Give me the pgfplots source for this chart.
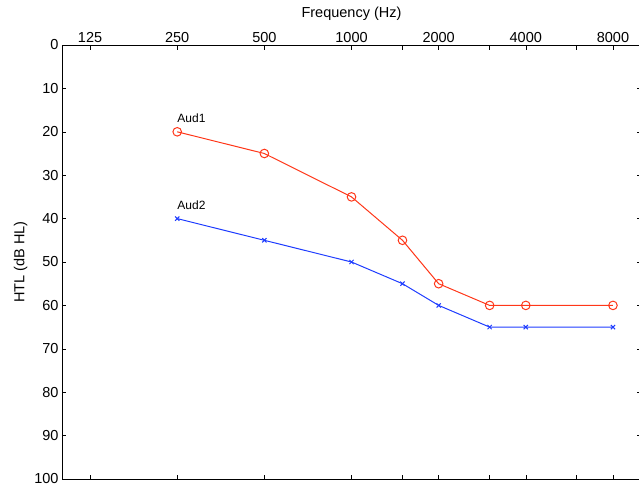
\documentclass[border=0pt]{standalone}
\usepackage{pgfplots}
\pgfplotsset{compat=1.18}
\usepackage{fontspec}
\setmainfont{Liberation Sans}
\definecolor{audred}{RGB}{255,55,25}
\definecolor{audblue}{RGB}{30,60,255}
\begin{document}
\begin{tikzpicture}
\begin{axis}[name=ax,
  scale only axis, width=579pt, height=434pt,
  xmode=log, log basis x=2, xmin=100, xmax=10000,
  ymin=0, ymax=100, y dir=reverse,
  xtick={125,250,500,1000,1500,2000,3000,4000,6000,8000},
  xticklabels={125,250,500,1000,,2000,,4000,,8000},
  xticklabel pos=upper,
  ytick={0,10,...,100},
  tick align=inside, major tick length=4.5pt,
  minor tick num=0, log ticks with fixed point,
  xtick pos=both, ytick pos=both,
  axis line style={line width=1pt},
  every tick/.style={black, line width=0.6pt},
  tick label style={font=\fontsize{14.5}{16}\selectfont},
  /pgf/number format/assume math mode=true,
  xticklabel style={yshift=-1pt},
  xlabel={Frequency (Hz)}, xlabel style={font=\fontsize{14.5}{16}\selectfont, yshift=5pt},
  ylabel={HTL (dB HL)}, ylabel style={font=\fontsize{14.5}{16}\selectfont},
  clip=false,
]
\addplot[audred, line width=1pt, mark=o, mark size=4.3pt, mark options={line width=1pt}]
  coordinates {(250,20) (500,25) (1000,35) (1500,45) (2000,55) (3000,60) (4000,60) (8000,60)};
\addplot[audblue, line width=1pt, mark=x, mark size=3pt, mark options={line width=1pt}]
  coordinates {(250,40) (500,45) (1000,50) (1500,55) (2000,60) (3000,65) (4000,65) (8000,65)};
\node[anchor=base west, font=\fontsize{12}{14}\selectfont, inner sep=0pt] at (axis cs:250,17.8) {Aud1};
\node[anchor=base west, font=\fontsize{12}{14}\selectfont, inner sep=0pt] at (axis cs:250,37.8) {Aud2};
\end{axis}
\pgfresetboundingbox
\path[use as bounding box] ([xshift=-62pt,yshift=-9pt]ax.south west) rectangle ([xshift=-2pt,yshift=45pt]ax.north east);
\end{tikzpicture}
\end{document}
